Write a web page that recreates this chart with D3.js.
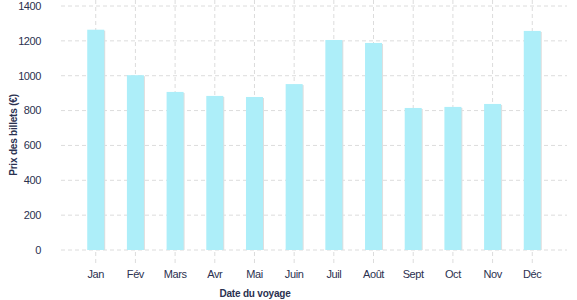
<!DOCTYPE html>
<html>
<head>
<meta charset="utf-8">
<script src="https://cdn.jsdelivr.net/npm/d3@7"></script>
<style>
  html, body { margin: 0; padding: 0; background: #fff; }
  svg text { font-family: "Liberation Sans", Arial, sans-serif; fill: #2b3150; }
</style>
</head>
<body>
<svg width="577" height="300"></svg>
<script>
// months and ticket prices
const months = ["Jan", "Fév", "Mars", "Avr", "Mai", "Juin", "Juil", "Août", "Sept", "Oct", "Nov", "Déc"];
const prices = [1264, 1003, 907, 884, 878, 952, 1205, 1188, 815, 821, 838, 1257];
const yTicks = [0, 200, 400, 600, 800, 1000, 1200, 1400];

const svg = d3.select("svg");

const x = d3.scaleBand().domain(months).range([61, 567]).paddingInner(0).paddingOuter(0.375);
const y = d3.scaleLinear().domain([0, 1400]).range([250, 6]);
const barW = 17;
const cx = m => x(m) + x.bandwidth() / 2;

// grid
svg.append("g").selectAll("line").data(yTicks).enter().append("line")
  .attr("x1", 61).attr("x2", 567)
  .attr("y1", d => y(d)).attr("y2", d => y(d))
  .attr("stroke", "#dcdcdc").attr("stroke-dasharray", "4,3");

svg.append("g").selectAll("line").data(months).enter().append("line")
  .attr("x1", cx).attr("x2", cx)
  .attr("y1", 0).attr("y2", 265)
  .attr("stroke", "#dcdcdc").attr("stroke-dasharray", "4,3");

// bar shadows then bars
svg.append("g").selectAll("rect").data(months).enter().append("rect")
  .attr("x", m => cx(m) - barW / 2 + 1)
  .attr("y", (m, i) => y(prices[i]) + 1)
  .attr("width", barW)
  .attr("height", (m, i) => y(0) - y(prices[i]) - 1)
  .attr("fill", "#dedede");

svg.append("g").selectAll("rect").data(months).enter().append("rect")
  .attr("x", m => cx(m) - barW / 2)
  .attr("y", (m, i) => y(prices[i]))
  .attr("width", barW)
  .attr("height", (m, i) => y(0) - y(prices[i]))
  .attr("fill", "#adeef9");

// tick labels
svg.append("g").selectAll("text").data(yTicks).enter().append("text")
  .attr("x", 41).attr("y", d => y(d)).attr("dy", "0.35em")
  .attr("text-anchor", "end")
  .style("font-size", "11px").style("letter-spacing", "-0.4px")
  .text(d => d);

svg.append("g").selectAll("text").data(months).enter().append("text")
  .attr("x", cx).attr("y", 278)
  .attr("text-anchor", "middle")
  .style("font-size", "11px").style("letter-spacing", "-0.4px")
  .text(d => d);

// axis titles
svg.append("text")
  .attr("x", 255).attr("y", 297)
  .attr("text-anchor", "middle")
  .style("font-size", "10px").style("font-weight", "bold").style("letter-spacing", "-0.2px")
  .text("Date du voyage");

svg.append("text")
  .attr("transform", "translate(17,135) rotate(-90)")
  .attr("text-anchor", "middle")
  .style("font-size", "10px").style("font-weight", "bold").style("letter-spacing", "-0.2px")
  .text("Prix des billets (€)");
</script>
</body>
</html>
